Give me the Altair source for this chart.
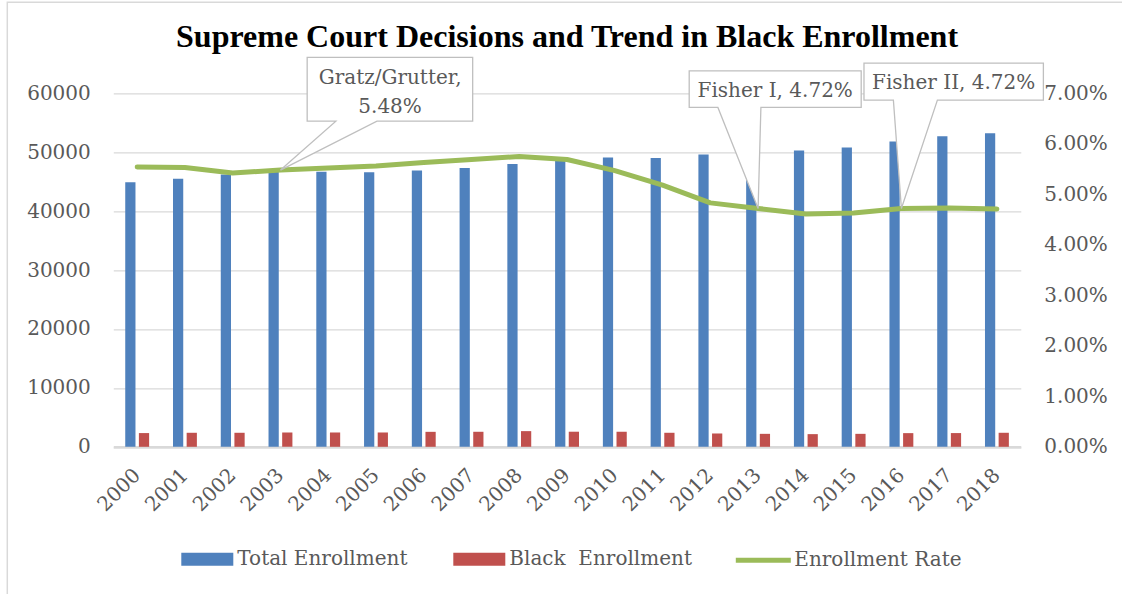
import altair as alt
import pandas as pd

# ---------------- data ----------------
years = [str(y) for y in range(2000, 2019)]
total_enrollment = [44900, 45500, 46200, 46700, 46700, 46600, 46900, 47300, 48000, 48700,
                    49100, 49000, 49600, 49900, 50300, 50800, 51800, 52700, 53200]
black_enrollment = [2330, 2380, 2380, 2430, 2430, 2430, 2540, 2550, 2660, 2560,
                    2540, 2380, 2260, 2200, 2150, 2200, 2320, 2330, 2380]
enrollment_rate = [0.0554, 0.0553, 0.0542, 0.0548, 0.0552, 0.0556, 0.0563, 0.0569, 0.0575, 0.0569,
                   0.0547, 0.0518, 0.0483, 0.0472, 0.0461, 0.0463, 0.0472, 0.0473, 0.0471]
series_names = ["Total Enrollment", "Black\u00a0 Enrollment", "Enrollment Rate"]
series_colors = ["#4F81BD", "#C0504D", "#9BBB59"]
left_ticks = [0, 10000, 20000, 30000, 40000, 50000, 60000]
right_ticks = [0.0, 0.01, 0.02, 0.03, 0.04, 0.05, 0.06, 0.07]

callout_years = ["2003", "2013", "2016"]
callout_labels = ["Gratz/Grutter,\n5.48%", "Fisher I, 4.72%", "Fisher II, 4.72%"]
# callout balloon outlines (pixels, relative to the pointed data point)
callout_shapes = [
    "M0,0L96.5,-48.9L192.2,-48.9L192.2,-112.6L26.7,-112.6L26.7,-48.9L55.4,-48.9Z",
    "M0,0L2.8,-101L103.1,-101L103.1,-137.6L-68.9,-137.6L-68.9,-101L-40.2,-101Z",
    "M0,0L36,-108.3L142,-108.3L142,-145.3L-37.4,-145.3L-37.4,-108.3L-8,-108.3Z",
]
callout_text_offsets = [(109.6, -86.0), (17.1, -111.3), (52.3, -119.8)]

TEXT = "#595959"
FONT = "DejaVu Serif"

# ---------------- tables ----------------
bars_df = pd.DataFrame({
    "year": years * 2,
    "series": [series_names[0]] * len(years) + [series_names[1]] * len(years),
    "value": total_enrollment + black_enrollment,
})
line_df = pd.DataFrame({"year": years, "rate": enrollment_rate, "legend": series_names[2]})
rate_by_year = dict(zip(years, enrollment_rate))
callout_df = pd.DataFrame({
    "year": callout_years,
    "rate": [rate_by_year[y] for y in callout_years],
    "label": callout_labels,
})

x_enc = alt.X("year:N", sort=years, title=None,
              scale=alt.Scale(paddingInner=0.5, paddingOuter=0.25),
              axis=alt.Axis(labelAngle=-45, labelAlign="right", labelBaseline="middle",
                            labelPadding=25, domain=True, domainColor="#D9D9D9",
                            domainWidth=2.5, grid=False, ticks=False))
x_plain = alt.X("year:N", sort=years, title=None)
rate_scale = alt.Scale(domain=[0, 0.07])

bars = alt.Chart(bars_df).mark_bar().encode(
    x=x_enc,
    xOffset=alt.XOffset("series:N", sort=series_names[:2], scale=alt.Scale(paddingInner=0.25)),
    y=alt.Y("value:Q", title=None, scale=alt.Scale(domain=[0, 60000]),
            axis=alt.Axis(values=left_ticks, format="d", orient="left", labelPadding=23,
                          domain=False, grid=True, gridColor="#D9D9D9", gridWidth=1.3)),
    color=alt.Color("series:N", sort=series_names[:2],
                    scale=alt.Scale(domain=series_names[:2], range=series_colors[:2]),
                    legend=alt.Legend(title=None, orient="none", legendX=68, legendY=440,
                                      direction="horizontal",
                                      symbolType="M-1,-0.25H1V0.25H-1Z", symbolSize=2704,
                                      symbolStrokeWidth=0, labelOffset=4, columnPadding=45,
                                      labelLimit=400,
                                      labelFont=FONT, labelFontSize=20, labelColor=TEXT)),
)

line = alt.Chart(line_df).mark_line(strokeWidth=5, strokeCap="round", strokeJoin="round").encode(
    x=x_plain,
    y=alt.Y("rate:Q", title=None, scale=rate_scale,
            axis=alt.Axis(values=right_ticks, format=".2%", orient="right", labelPadding=23,
                          domain=False, grid=False)),
    stroke=alt.Stroke("legend:N",
                      scale=alt.Scale(domain=[series_names[2]], range=[series_colors[2]]),
                      legend=alt.Legend(title=None, orient="none", legendX=620, legendY=437,
                                        direction="horizontal", symbolType="stroke",
                                        symbolSize=3025, symbolStrokeWidth=5, labelOffset=1,
                                        labelLimit=400,
                                        labelFont=FONT, labelFontSize=20, labelColor=TEXT)),
)

balloons = alt.Chart(callout_df).mark_point(
    filled=True, fill="white", stroke="#BFBFBF", strokeWidth=1.3, size=4, opacity=1
).encode(
    x=x_plain,
    y=alt.Y("rate:Q", scale=rate_scale, axis=None),
    shape=alt.Shape("label:N", scale=alt.Scale(domain=callout_labels, range=callout_shapes),
                    legend=None),
)

texts = []
for i, (dx, dy) in enumerate(callout_text_offsets):
    texts.append(
        alt.Chart(callout_df.iloc[[i]]).mark_text(
            dx=dx, dy=dy, font=FONT, fontSize=20, color=TEXT, align="center",
            baseline="alphabetic", lineBreak="\n", lineHeight=28.7
        ).encode(
            x=x_plain,
            y=alt.Y("rate:Q", scale=rate_scale, axis=None),
            text="label:N",
        )
    )

frame = alt.Chart(pd.DataFrame({"f": [0]})).mark_rect(
    fill="transparent", stroke="#D9D9D9", strokeWidth=1.5
).encode(x=alt.value(-106), x2=alt.value(1100), y=alt.value(-91), y2=alt.value(600))

chart = alt.layer(frame, bars, line, balloons, *texts).resolve_scale(
    y="independent"
).properties(
    width=907.5,
    height=353.5,
    background="white",
    autosize=alt.AutoSizeParams(type="none"),
    padding={"left": 113.3, "top": 93.3, "right": 101.2, "bottom": 147.2},
    title=alt.TitleParams("Supreme Court Decisions and Trend in Black Enrollment",
                          font="Liberation Serif", fontSize=32, fontWeight="bold",
                          color="black", anchor="middle", baseline="alphabetic",
                          offset=-77),
).configure_view(stroke=None).configure_axis(
    labelFont=FONT, labelFontSize=20, labelColor=TEXT, ticks=False, domain=False
)

chart.save("out.html", embed_options={"renderer": "svg", "actions": False})
